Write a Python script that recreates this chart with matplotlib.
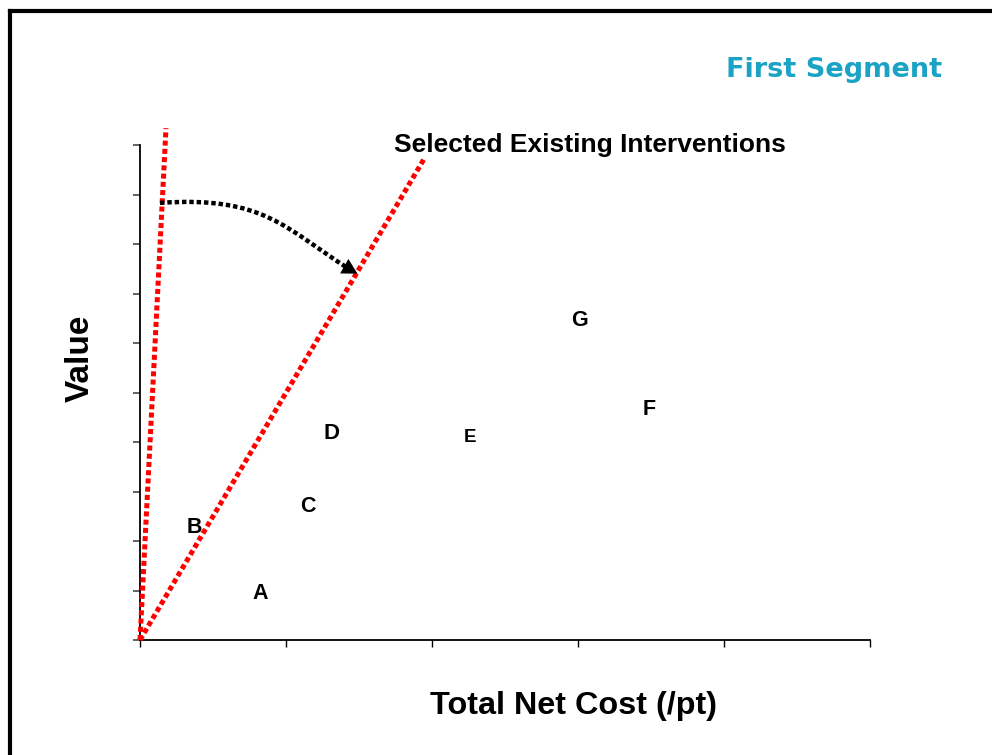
import matplotlib
matplotlib.use("Agg")
import matplotlib.pyplot as plt
from matplotlib.patches import FancyArrowPatch, PathPatch
from matplotlib.path import Path
from matplotlib.lines import Line2D

plt.rcParams['font.family'] = ['Liberation Sans', 'DejaVu Sans']

# Data
labels = ["A", "B", "C", "D", "E", "F", "G"]
x_vals = [0.82, 0.37, 1.15, 1.31, 2.26, 3.49, 3.01]
y_vals = [0.93, 2.28, 2.69, 4.18, 4.10, 4.65, 6.46]
label_sizes = [15.5, 15.5, 15.5, 16, 13.5, 15.5, 15.5]

line_steep = ([0.0, 0.178], [0.0, 10.34])
line_selected = ([0.0, 1.95], [0.0, 9.74])

arrow_pts = [(0.137, 8.83), (0.85, 8.98), (1.0, 8.3), (1.43, 7.5)]
arrow_tip = (1.49, 7.40)

fig = plt.figure(figsize=(9.92, 7.55), dpi=100)
ax = fig.add_axes([140/992, 115/755, 730/992, 495/755])

ax.set_xlim(0, 5)
ax.set_ylim(0, 10)
ax.set_xticks(range(0, 6))
ax.set_yticks(range(0, 11))
ax.set_xticklabels([])
ax.set_yticklabels([])
ax.spines['top'].set_visible(False)
ax.spines['right'].set_visible(False)
ax.spines['left'].set_linewidth(1.3)
ax.spines['bottom'].set_linewidth(1.3)
ax.tick_params(axis='y', direction='out', length=5, width=1.3, color='#555555')
ax.tick_params(axis='x', direction='out', length=5, width=1.0, color='black')

for lab, xv, yv, fs in zip(labels, x_vals, y_vals, label_sizes):
    ax.text(xv, yv, lab, ha='center', va='center', fontsize=fs, fontweight='bold', color='black')

ax.plot(*line_steep, color='#FF0000', lw=3.6, linestyle=(0, (1, 0.65)), clip_on=False, zorder=3)
ax.plot(*line_selected, color='#FF0000', lw=3.6, linestyle=(0, (1, 0.65)), clip_on=False, zorder=3)

path = Path(arrow_pts, [Path.MOVETO, Path.CURVE4, Path.CURVE4, Path.CURVE4])
curve = PathPatch(path, fill=False, edgecolor='black', lw=3.2,
                  linestyle=(0, (1, 0.65)), clip_on=False, zorder=4)
ax.add_patch(curve)
head = FancyArrowPatch(arrow_pts[-1], arrow_tip, arrowstyle='-|>,head_length=0.55,head_width=0.3',
                       mutation_scale=20, color='black', lw=0, shrinkA=0, shrinkB=0,
                       clip_on=False, zorder=5)
ax.add_patch(head)

fig.text(590/992, 1 - 145/755, "Selected Existing Interventions", ha='center', va='center',
         fontsize=19, fontweight='bold', color='black')
fig.text(834/992, 1 - 70/755, "First Segment", ha='center', va='center',
         fontsize=19.5, fontweight='bold', color='#1AA3C4', family=['DejaVu Sans'])
fig.text(80/992, 1 - 358/755, "Value", ha='center', va='center', rotation=90,
         fontsize=24, fontweight='bold', color='black')
fig.text(573/992, 1 - 706/755, "Total Net Cost (/pt)", ha='center', va='center',
         fontsize=23.3, fontweight='bold', color='black')

# frame (top and left edges visible)
fig.add_artist(Line2D([10/992, 10/992], [0, 1 - 11/755], color='black', lw=3, transform=fig.transFigure))
fig.add_artist(Line2D([10/992, 1], [1 - 11/755, 1 - 11/755], color='black', lw=3, transform=fig.transFigure))

fig.savefig("out.png", dpi=100)
